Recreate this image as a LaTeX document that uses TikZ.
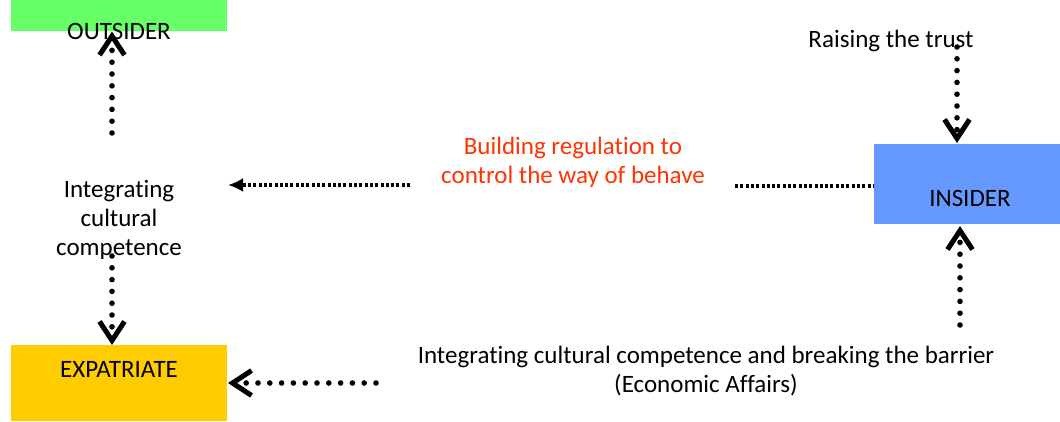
\documentclass[tikz,border=0pt]{standalone}
\usepackage{fontspec}
\setmainfont{Carlito}[Ligatures=CommonOff]
\usetikzlibrary{arrows.meta,calc}
\definecolor{outgreen}{HTML}{66FF66}
\definecolor{expyellow}{HTML}{FFCC00}
\definecolor{insblue}{HTML}{6699FF}
\definecolor{regred}{HTML}{FF3300}
\begin{document}
\begin{tikzpicture}[x=1pt,y=1pt,
  every node/.style={font=\fontsize{25}{29}\selectfont, inner sep=0pt, outer sep=0pt},
  area/.style={rectangle, draw=none},
  lbl/.style={align=center, text=black},
  bigdots/.style={line width=5.6pt, line cap=round, dash pattern=on 0pt off 11.8pt,
    -{Straight Barb[length=19pt,width=25pt,line width=5pt]}},
  finedots/.style={line width=3.2pt, dash pattern=on 3pt off 2.3pt},
  ]
\useasboundingbox (0,0) rectangle (1060,-421);

% coloured areas
\node[area, fill=outgreen, minimum width=216pt, minimum height=31pt] (outsider) at (119,-15.5) {};
\node[area, fill=expyellow, minimum width=216pt, minimum height=76pt] (expat) at (119,-383) {};
\node[area, fill=insblue, minimum width=186pt, minimum height=80pt] (insider) at (967,-184) {};

% labels
\node[lbl] (outsidertxt) at (119,-31.5) {OUTSIDER};
\node[lbl] (expattxt) at (119,-369.5) {EXPATRIATE};
\node[lbl] (insidertxt) at (970,-198.5) {INSIDER};
\node[lbl] (integ) at (119,-219.5) {Integrating\\cultural\\competence};
\node[lbl] (trust) at (891,-40.5) {Raising the trust};
\node[lbl, text=regred] (regul) at (573,-162.5) {Building regulation to\\control the way of behave};
\node[lbl] (barrier) at (706,-371) {Integrating cultural competence and breaking the barrier\\(Economic Affairs)};

% free ends of the connectors
\coordinate (upstart) at (112,-133);
\coordinate (downstart) at (112,-256);
\coordinate (barstart) at (376,-383);
\coordinate (regstart) at (410,-185);
\coordinate (regtip) at (228,-185);
\coordinate (regline) at (735,-186);
\coordinate (truststart) at (957,-47);
\coordinate (insstart) at (960,-325);

% connectors
\draw[bigdots] (upstart) -- (upstart |- outsidertxt.center);
\draw[bigdots] (downstart) -- (downstart |- expat.north);
\draw[bigdots] (barstart) -- ([xshift=1pt]expat.east |- barstart);
\draw[finedots, -{Latex[length=15pt,width=14pt]}] (regstart) -- (regtip);
\draw[finedots] (regline) -- (insider.west |- regline);
\draw[bigdots] (truststart) -- ([yshift=1pt]truststart |- insider.north);
\draw[bigdots] (insstart) -- ([yshift=-2pt]insstart |- insider.south);
\end{tikzpicture}
\end{document}
